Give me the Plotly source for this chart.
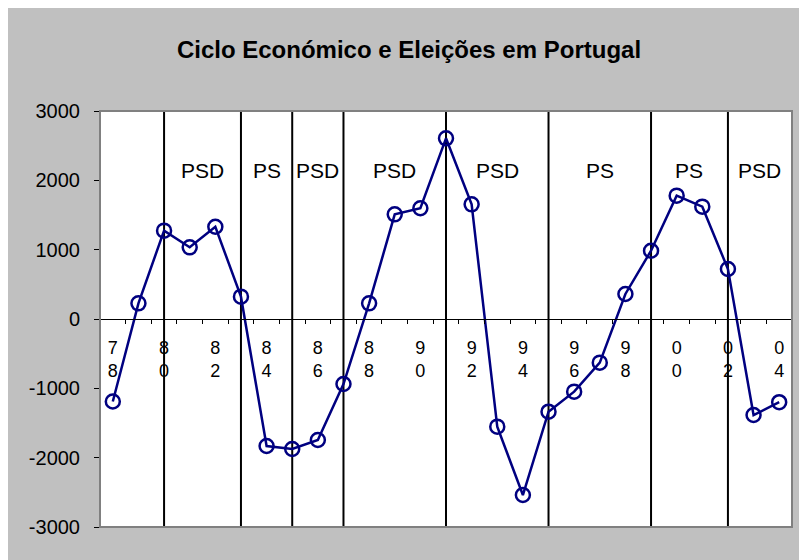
import plotly.graph_objects as go

# ---- data ----
years = list(range(1978, 2005))
cycle = [-1190, 226, 1274, 1034, 1331, 322, -1832, -1875, -1745, -938,
         226, 1510, 1597, 2606, 1654, -1553, -2539, -1337, -1048, -630,
         361, 985, 1779, 1620, 721, -1385, -1200]
election_years = [1980, 1983, 1985, 1987, 1991, 1995, 1999, 2002]
party_labels = ["PSD", "PS", "PSD", "PSD", "PSD", "PS", "PS", "PSD"]
label_years = list(range(1978, 2005, 2))
label_text = [f"{str(y)[2]}<br>{str(y)[3]}" for y in label_years]
y_ticks = [-3000, -2000, -1000, 0, 1000, 2000, 3000]
y_ticktext = [str(v) for v in y_ticks]

x_min, x_max = years[0] - 0.5, years[-1] + 0.5
y_min, y_max = -3000, 3000

FONT = "Liberation Sans, Arial, sans-serif"
NAVY = "#000080"

fig = go.Figure()

fig.add_trace(go.Scatter(
    x=years, y=cycle, mode="lines+markers",
    line=dict(color=NAVY, width=2.5),
    marker=dict(symbol="circle-open", size=14, color=NAVY, line=dict(width=2.5, color=NAVY)),
    showlegend=False, hoverinfo="x+y",
))

shapes = []
# plot area background
shapes.append(dict(type="rect", xref="paper", yref="paper", x0=0, x1=1, y0=0, y1=1,
                   fillcolor="white", line=dict(width=0), layer="below"))
# election lines
for ey in election_years:
    shapes.append(dict(type="line", xref="x", yref="y", x0=ey, x1=ey, y0=y_min, y1=y_max,
                       line=dict(color="black", width=2), layer="below"))
# plot area border
shapes.append(dict(type="rect", xref="paper", yref="paper", x0=0, x1=1, y0=0, y1=1,
                   line=dict(color="#808080", width=2), fillcolor="rgba(0,0,0,0)", layer="above"))

annotations = []
bounds = election_years + [x_max]
for i, p in enumerate(party_labels):
    annotations.append(dict(x=(bounds[i] + bounds[i + 1]) / 2, y=2140, xref="x", yref="y",
                            text=p, showarrow=False, xanchor="center", yanchor="middle",
                            font=dict(family=FONT, size=21, color="black")))

fig.update_layout(
    width=807, height=560,
    margin=dict(l=92, r=23, t=103, b=41),
    paper_bgcolor="#C0C0C0", plot_bgcolor="white",
    title=dict(text="<b>Ciclo Económico e Eleições em Portugal</b>",
               x=401 / 807, xref="container", xanchor="center",
               y=1 - 42 / 560, yref="container", yanchor="middle",
               font=dict(family=FONT, size=24, color="black")),
    shapes=shapes, annotations=annotations,
    xaxis=dict(range=[x_min, x_max], anchor="free", position=0.5,
               tickvals=label_years, ticktext=label_text, ticks="outside", ticklen=0,
               tickfont=dict(family=FONT, size=18, color="black"),
               showline=True, linecolor="black", linewidth=1, showgrid=False, zeroline=False,
               minor=dict(tick0=x_min, dtick=1, ticks="outside", ticklen=4, tickcolor="black"),
               ticklabelstandoff=12, fixedrange=True),
    yaxis=dict(range=[y_min, y_max], tickvals=y_ticks, ticktext=y_ticktext,
               ticks="outside", ticklen=5,
               tickcolor="black", showline=True, linecolor="black", linewidth=1,
               showgrid=False, zeroline=False,
               tickfont=dict(family=FONT, size=20, color="black"), ticklabelstandoff=10,
               fixedrange=True),
)

fig.write_html("out.html")
